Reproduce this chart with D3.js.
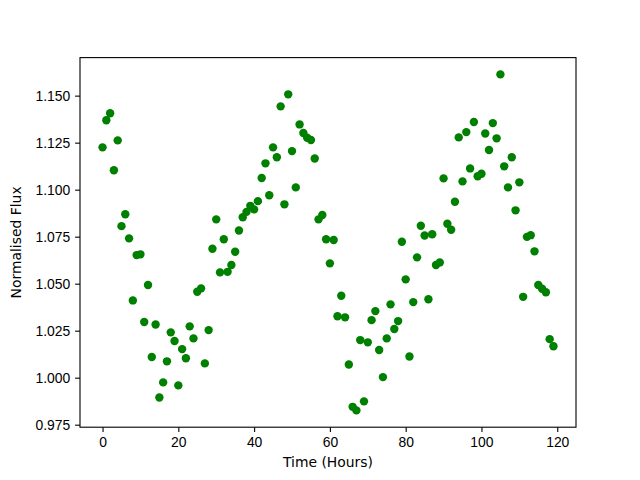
<!DOCTYPE html>
<html>
<head>
<meta charset="utf-8">
<script src="https://cdn.jsdelivr.net/npm/d3@7"></script>
<style>
  body { margin: 0; background: #ffffff; }
  svg { display: block; font-family: 'DejaVu Sans', sans-serif; }
  .tick text { font-size: 13.9px; fill: #000000; }
  .tick line { stroke: #000000; stroke-width: 1.1; }
  .axis-label { font-size: 13.9px; fill: #000000; }
</style>
</head>
<body>
<svg id="chart"></svg>
<script>
const timeHours = [
  0, 1, 2, 3, 4, 5, 6, 7, 8, 9, 10, 11, 12, 13, 14, 15, 16, 17, 18, 19,
  20, 21, 22, 23, 24, 25, 26, 27, 28, 29, 30, 31, 32, 33, 34, 35, 36, 37, 38, 39,
  40, 41, 42, 43, 44, 45, 46, 47, 48, 49, 50, 51, 52, 53, 54, 55, 56, 57, 58, 59,
  60, 61, 62, 63, 64, 65, 66, 67, 68, 69, 70, 71, 72, 73, 74, 75, 76, 77, 78, 79,
  80, 81, 82, 83, 84, 85, 86, 87, 88, 89, 90, 91, 92, 93, 94, 95, 96, 97, 98, 99,
  100, 101, 102, 103, 104, 105, 106, 107, 108, 109, 110, 111, 112, 113, 114, 115, 116, 117, 118, 119,
];

const normalisedFlux = [
  1.1225, 1.1369, 1.1406, 1.1103, 1.1262, 1.0806, 1.0869, 1.0741, 1.0411, 1.0652,
  1.0656, 1.0296, 1.0493, 1.0110, 1.0283, 0.9895, 0.9975, 1.0087, 1.0241, 1.0195,
  0.9959, 1.0152, 1.0103, 1.0273, 1.0209, 1.0457, 1.0475, 1.0076, 1.0253, 1.0686,
  1.0842, 1.0560, 1.0736, 1.0563, 1.0599, 1.0670, 1.0783, 1.0853, 1.0882, 1.0914,
  1.0895, 1.0939, 1.1062, 1.1140, 1.0970, 1.1225, 1.1172, 1.1443, 1.0922, 1.1507,
  1.1205, 1.1012, 1.1347, 1.1301, 1.1276, 1.1264, 1.1166, 1.0842, 1.0865, 1.0736,
  1.0608, 1.0732, 1.0327, 1.0436, 1.0321, 1.0070, 0.9845, 0.9826, 1.0200, 0.9874,
  1.0188, 1.0306, 1.0354, 1.0147, 1.0003, 1.0209, 1.0390, 1.0259, 1.0301, 1.0723,
  1.0523, 1.0113, 1.0402, 1.0640, 1.0808, 1.0756, 1.0417, 1.0763, 1.0599, 1.0613,
  1.1060, 1.0819, 1.0787, 1.0936, 1.1278, 1.1044, 1.1306, 1.1113, 1.1360, 1.1071,
  1.1085, 1.1299, 1.1211, 1.1354, 1.1273, 1.1613, 1.1124, 1.1012, 1.1172, 1.0890,
  1.1039, 1.0430, 1.0749, 1.0758, 1.0672, 1.0493, 1.0473, 1.0454, 1.0205, 1.0167,
];

const xTicks = [0, 20, 40, 60, 80, 100, 120];
const yTicks = [0.975, 1.0, 1.025, 1.05, 1.075, 1.1, 1.125, 1.15];

const xLabel = 'Time (Hours)';
const yLabel = 'Normalised Flux';

const width = 640;
const height = 480;

const margin = {
  top: 57.6,
  right: 64,
  bottom: 52.8,
  left: 80,
};

const chartWidth = width - margin.left - margin.right;
const chartHeight = height - margin.top - margin.bottom;

const svg = d3
  .select('#chart')
  .attr('width', width)
  .attr('height', height)
  .attr('viewBox', `0 0 ${width} ${height}`);

const g = svg
  .append('g')
  .attr('transform', `translate(${margin.left},${margin.top})`);

// matplotlib style autoscale: 5% margin on each side
const pad = (ext) => {
  const span = ext[1] - ext[0];
  return [ext[0] - span * 0.05, ext[1] + span * 0.05];
};

const x = d3
  .scaleLinear()
  .domain(pad(d3.extent(timeHours)))
  .range([0, chartWidth]);

const y = d3
  .scaleLinear()
  .domain(pad(d3.extent(normalisedFlux)))
  .range([chartHeight, 0]);

const points = timeHours.map((t, i) => ({ t, flux: normalisedFlux[i] }));

//
// POINTS
//

g.append('g')
  .selectAll('circle')
  .data(points)
  .join('circle')
  .attr('cx', (d) => x(d.t))
  .attr('cy', (d) => y(d.flux))
  .attr('r', 4.2)
  .attr('fill', '#008000');

//
// X AXIS
//

const xAxis = g
  .append('g')
  .attr('transform', `translate(0,${chartHeight})`)
  .call(
    d3.axisBottom(x).tickValues(xTicks).tickSize(4.9).tickPadding(4.9),
  );

xAxis.select('.domain').remove();

//
// Y AXIS
//

const yAxis = g
  .append('g')
  .call(
    d3
      .axisLeft(y)
      .tickValues(yTicks)
      .tickSize(4.9)
      .tickPadding(4.9)
      .tickFormat(d3.format('.3f')),
  );

yAxis.select('.domain').remove();

//
// SPINES
//

g.append('rect')
  .attr('x', 0)
  .attr('y', 0)
  .attr('width', chartWidth)
  .attr('height', chartHeight)
  .attr('fill', 'none')
  .attr('stroke', '#000000')
  .attr('stroke-width', 1.1);

//
// LABELS
//

svg
  .append('text')
  .attr('class', 'axis-label')
  .attr('x', margin.left + chartWidth / 2)
  .attr('y', 467)
  .attr('text-anchor', 'middle')
  .text(xLabel);

svg
  .append('text')
  .attr('class', 'axis-label')
  .attr('transform', `translate(21,${margin.top + chartHeight / 2}) rotate(-90)`)
  .attr('text-anchor', 'middle')
  .text(yLabel);
</script>
</body>
</html>
